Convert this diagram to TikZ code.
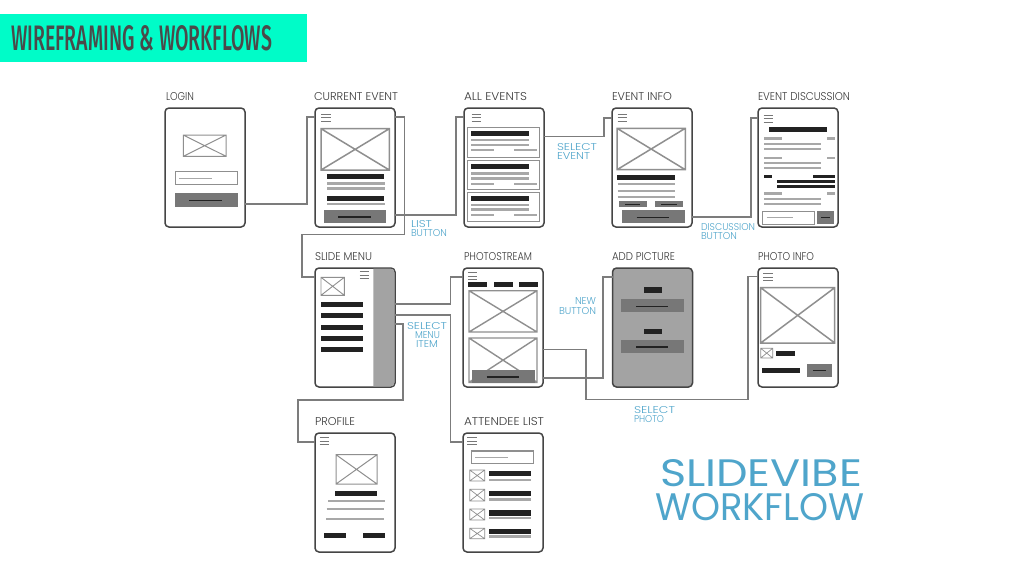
\documentclass[tikz,border=0pt]{standalone}
\usepackage{fontspec}
\usepackage{graphicx}
\newfontfamily\handfont{Poppins Light}
\newfontfamily\bighand{Poppins}
\newfontfamily\titlefont{Fira Sans Medium}
\definecolor{inkd}{HTML}{222222}
\definecolor{linegrey}{HTML}{A8A8A8}
\definecolor{btn}{HTML}{777777}
\definecolor{frame}{HTML}{454545}
\definecolor{conncol}{HTML}{7C7C7C}
\definecolor{imgcol}{HTML}{8F8F8F}
\definecolor{panel}{HTML}{A3A3A3}
\definecolor{bluelab}{HTML}{4FA5CB}
\definecolor{banner}{HTML}{00FCC8}
\definecolor{titleink}{HTML}{4A4A4A}
\definecolor{labink}{HTML}{3A3A3A}
\tikzset{
  screen/.style={draw=frame,line width=1.5pt,rounded corners=4pt,fill=white,minimum width=80pt,minimum height=119pt,inner sep=0pt,outer sep=0pt,anchor=north west},
  conn/.style={draw=conncol,line width=1.2pt},
  txtlab/.style={inner sep=0pt,outer sep=0pt,anchor=base west},
}
% filled bar
\newcommand{\fb}[5]{\fill[#1] (#2,#3) rectangle (#4,#5);}
% horizontal thin line: colour, x1, x2, y, width
\newcommand{\hl}[5]{\draw[#1,line width=#5pt] (#2,#4) -- (#3,#4);}
% image placeholder: line width, colour, box
\newcommand{\img}[6]{\draw[#2,line width=#1pt] (#3,#4) rectangle (#5,#6) (#3,#4) -- (#5,#6) (#3,#6) -- (#5,#4);}
% hamburger
\newcommand{\burger}[3]{\draw[btn,line width=1pt] (#1,#2) -- ++(9.5,0) (#1,#2+3.5) -- ++(9.5,0) (#1,#2+7) -- ++(9.5,0);}
% button with inner line
\newcommand{\btnbox}[7]{\fill[btn] (#1,#2) rectangle (#3,#4); \draw[inkd,line width=1.4pt] (#5,#7) -- (#6,#7);}
% label: name, colour, x, baseline y, width, height, text
\newcommand{\lab}[7]{\node[txtlab,text=#2] (#1) at (#3,#4) {\resizebox{#5pt}{#6pt}{\handfont #7}};}
\begin{document}
\begin{tikzpicture}[x=1pt,y=-1pt]
\useasboundingbox (0,0) rectangle (1024,576);
\fill[white] (0,0) rectangle (1024,576);
% banner
\fill[banner] (0,13.5) rectangle (307,62);
\node[txtlab,text=titleink] (title) at (11,50) {\resizebox{261pt}{25pt}{\titlefont WIREFRAMING \& WORKFLOWS}};

% screens
\node[screen] (login) at (165,108) {};
\node[screen] (current) at (315,108) {};
\node[screen] (allev) at (464,108) {};
\node[screen] (evinfo) at (612,108) {};
\node[screen] (evdisc) at (758,108) {};
\node[screen] (menu) at (315,268) {};
\node[screen] (pstream) at (463,268) {};
\node[screen,fill=panel] (addpic) at (612.5,268) {};
\node[screen] (pinfo) at (758,268) {};
\node[screen] (profile) at (315,433) {};
\node[screen] (attend) at (463,433) {};

% connectors
\draw[conn] (login.east |- 0,204) -- (307,204) -- (307,117) -- (current.west |- 0,117);
\draw[conn] (current.east |- 0,215) -- (456,215) -- (456,117) -- (allev.west |- 0,117);
\draw[conn] (current.east |- 0,117) -- (404.5,117) -- (404.5,234.5) -- (302,234.5) -- (302,277) -- (menu.west |- 0,277);
\draw[conn] (allev.east |- 0,136.5) -- (604,136.5) -- (604,118) -- (evinfo.west |- 0,118);
\draw[conn] (evinfo.east |- 0,217) -- (751,217) -- (751,118) -- (evdisc.west |- 0,118);
\draw[conn] (menu.east |- 0,304) -- (450.5,304) -- (450.5,277) -- (pstream.west |- 0,277);
\draw[conn] (menu.east |- 0,315) -- (450.5,315) -- (450.5,442) -- (attend.west |- 0,442);
\draw[conn] (menu.east |- 0,324) -- (403,324) -- (403,400) -- (298,400) -- (298,442) -- (profile.west |- 0,442);
\draw[conn] (pstream.east |- 0,378) -- (603,378) -- (603,277) -- (addpic.west |- 0,277);
\draw[conn] (pstream.east |- 0,349.5) -- (586,349.5) -- (586,399.5) -- (748,399.5) -- (748,276.5) -- (pinfo.west |- 0,276.5);

% login
\img{1}{imgcol}{183.3}{135}{226}{156.3}
\draw[imgcol,line width=1pt] (175,171.7) rectangle (237.7,184.7);
\hl{linegrey}{179}{212}{178.3}{0.9}
\btnbox{175}{193.3}{238}{206.7}{189.3}{222.3}{200.3}

% current event
\burger{321}{114.3}{}
\img{1.5}{imgcol}{321}{128.7}{389.3}{170}
\fb{inkd}{326.7}{174.3}{384}{179}
\hl{linegrey}{327.3}{384.7}{183.5}{2.6}
\hl{linegrey}{327.3}{384.7}{188.5}{2.6}
\fb{inkd}{326.7}{196}{384}{200.5}
\hl{linegrey}{327.3}{384.7}{204.3}{2}
\btnbox{323.7}{210}{386.3}{223.3}{338.3}{370.7}{217}

% all events
\burger{471.7}{114.3}{}
\draw[imgcol,line width=0.9pt] (467.7,127.7) rectangle (539.7,157);
\draw[imgcol,line width=0.9pt] (467.7,160.7) rectangle (539.7,189.7);
\draw[imgcol,line width=0.9pt] (467.7,192.3) rectangle (539.7,221);
\fb{inkd}{471}{131}{529}{136.3}
\hl{linegrey}{471}{529}{140}{2.6}
\hl{linegrey}{471}{529}{145}{2.6}
\hl{linegrey}{471}{494}{150.3}{2.2}
\hl{linegrey}{514}{537}{150.3}{2.2}
\fb{inkd}{471}{164}{529}{169.3}
\hl{linegrey}{471}{529}{173.3}{2.6}
\hl{linegrey}{471}{529}{178.3}{2.6}
\hl{linegrey}{471}{494}{183.7}{2.2}
\hl{linegrey}{514}{537}{183.7}{2.2}
\fb{inkd}{471}{195.7}{529}{200.7}
\hl{linegrey}{471}{529}{205}{2.6}
\hl{linegrey}{471}{529}{209.7}{2.6}
\hl{linegrey}{471}{494}{215}{2.2}
\hl{linegrey}{514}{537}{215}{2.2}

% event info
\burger{617.5}{114.3}{}
\img{1.5}{imgcol}{617}{128.3}{685.3}{169.7}
\fb{inkd}{617.3}{174.7}{674.7}{179.7}
\hl{linegrey}{617.7}{675}{184}{2.4}
\hl{linegrey}{617.7}{675}{190.7}{2.4}
\hl{linegrey}{617.7}{675}{197}{2.4}
\btnbox{618.7}{201.3}{647}{207.3}{625}{640}{204.3}
\btnbox{655}{201.3}{683.3}{207.3}{661}{677}{204.3}
\btnbox{622}{210.3}{684.7}{223.3}{636.7}{669}{217.3}

% event discussion
\burger{763.5}{115}{}
\fb{inkd}{769.3}{126.7}{827}{132}
\hl{linegrey}{764}{782}{138.7}{2.6}
\hl{linegrey}{827.3}{834.7}{138.7}{2.6}
\hl{linegrey}{764}{821.3}{143.7}{2.2}
\hl{linegrey}{764}{821.3}{149}{2.2}
\hl{linegrey}{764}{782}{158}{2.6}
\hl{linegrey}{827.3}{834.7}{158}{2.6}
\hl{linegrey}{764}{821.3}{163}{2.2}
\hl{linegrey}{764}{821.3}{168.3}{2.2}
\hl{inkd}{764}{771.7}{176}{3}
\hl{inkd}{813.3}{834.7}{176}{3}
\hl{inkd}{777.3}{834.7}{181.3}{3}
\hl{inkd}{777.3}{834.7}{186.3}{3}
\hl{linegrey}{764}{782}{193.3}{2.6}
\hl{linegrey}{827.3}{834.7}{193.3}{2.6}
\hl{linegrey}{764}{821.3}{198.7}{2.2}
\hl{linegrey}{764}{821.3}{204}{2.2}
\draw[imgcol,line width=1pt] (762.7,211.3) rectangle (814.7,224);
\hl{linegrey}{766.7}{793.3}{217.7}{1}
\btnbox{817}{211.3}{834}{224}{821.3}{830}{217.7}

% slide menu
\fill[panel] (373.3,268.7) [rounded corners=3.5pt] -- (394.3,268.7) -- (394.3,386.3) [sharp corners] -- (373.3,386.3) -- cycle;
\burger{359.8}{271.7}{}
\img{0.9}{imgcol}{321}{277.3}{344.3}{295.3}
\fb{inkd}{321}{302.3}{363}{307.3}
\fb{inkd}{321}{313}{363}{318}
\fb{inkd}{321}{324.7}{363}{330}
\fb{inkd}{321}{336}{363}{341}
\fb{inkd}{321}{346.7}{363}{351.7}

% photostream
\burger{467.8}{272.7}{}
\fb{inkd}{467.7}{282}{487}{287.3}
\fb{inkd}{494.3}{282}{513.3}{287.3}
\fb{inkd}{518.7}{282}{537.7}{287.3}
\img{1.4}{imgcol}{469}{290.7}{537}{332}
\img{1.4}{imgcol}{469}{338}{537}{382.3}
\btnbox{472.3}{369.7}{535}{383}{486.7}{519.3}{377}

% add picture
\fb{inkd}{643.7}{287.3}{662.3}{292.7}
\btnbox{621}{299.3}{684.3}{312.3}{636}{668.3}{306.3}
\fb{inkd}{643.7}{329}{662.3}{334}
\btnbox{621}{340}{684.3}{353}{636}{668.3}{347}

% photo info
\burger{763.3}{273.5}{}
\img{1.5}{imgcol}{760.7}{287.7}{834.7}{343}
\img{0.7}{imgcol}{760.7}{348.3}{772.7}{358}
\fb{inkd}{776.3}{350.7}{795.3}{355.7}
\fb{inkd}{761.7}{368}{800.3}{373}
\btnbox{806.7}{363.7}{832}{376.7}{813}{826}{370.7}

% profile
\burger{319.5}{437.5}{}
\img{1}{imgcol}{336}{454.7}{377}{484}
\fb{inkd}{335}{490.7}{376.7}{496.3}
\hl{linegrey}{328}{385.3}{501}{2.6}
\hl{linegrey}{326.7}{384}{509}{2.2}
\hl{linegrey}{326}{383.7}{519}{2.4}
\fb{inkd}{323.7}{532.7}{345.7}{538}
\fb{inkd}{363}{532.7}{384.7}{538}

% attendee list
\burger{467.3}{437.5}{}
\draw[imgcol,line width=1.1pt] (471.3,451) rectangle (533.7,463.7);
\hl{linegrey}{475}{508.3}{457.3}{1}
\img{0.7}{imgcol}{469.7}{470}{484.7}{481}
\img{0.7}{imgcol}{469.7}{489.3}{484.7}{501}
\img{0.7}{imgcol}{469.7}{509}{484.7}{520}
\img{0.7}{imgcol}{469.7}{528.3}{484.7}{538.7}
\fb{inkd}{489.3}{471}{531.3}{476.3}
\hl{linegrey}{489.3}{531.3}{480}{2.6}
\fb{inkd}{489.3}{490.7}{531.3}{496}
\hl{linegrey}{489.3}{531.3}{499.3}{2.6}
\fb{inkd}{489.3}{510.3}{531.3}{515.7}
\hl{linegrey}{489.3}{531.3}{518}{2.6}
\fb{inkd}{489.3}{529}{531.3}{534}
\hl{linegrey}{489.3}{531.3}{536.7}{2.6}

% screen titles
\lab{tlogin}{labink}{166}{100}{28}{8}{LOGIN}
\lab{tcurrent}{labink}{314}{100}{84}{8}{CURRENT EVENT}
\lab{tallev}{labink}{464}{100}{63}{8}{ALL EVENTS}
\lab{tevinfo}{labink}{612}{100}{60}{8}{EVENT INFO}
\lab{tevdisc}{labink}{758}{100}{92}{8}{EVENT DISCUSSION}
\lab{tmenu}{labink}{315}{260}{57}{8}{SLIDE MENU}
\lab{tpstream}{labink}{464}{260}{68}{8}{PHOTOSTREAM}
\lab{taddpic}{labink}{612}{260}{63}{8}{ADD PICTURE}
\lab{tpinfo}{labink}{758}{260}{56}{8}{PHOTO INFO}
\lab{tprofile}{labink}{315}{425}{40}{8}{PROFILE}
\lab{tattend}{labink}{464}{425}{80}{8}{ATTENDEE LIST}

% blue labels
\lab{la}{bluelab}{411}{227}{21}{7}{LIST}
\lab{lb}{bluelab}{411}{236}{36}{7}{BUTTON}
\lab{lc}{bluelab}{557}{150}{40}{7}{SELECT}
\lab{ld}{bluelab}{557}{159}{33}{7}{EVENT}
\lab{le}{bluelab}{701}{230}{54}{7}{DISCUSSION}
\lab{lf}{bluelab}{701}{239}{36}{7}{BUTTON}
\lab{lg}{bluelab}{407}{329.5}{40}{7}{SELECT}
\lab{lh}{bluelab}{415}{338.5}{25}{7}{MENU}
\lab{li}{bluelab}{416}{347.5}{22}{7}{ITEM}
\lab{lj}{bluelab}{575}{304.5}{21}{7}{NEW}
\lab{lk}{bluelab}{559}{314.5}{37}{7}{BUTTON}
\lab{ll}{bluelab}{634}{413}{41}{7}{SELECT}
\lab{lm}{bluelab}{634}{422}{30}{7}{PHOTO}
\node[txtlab,text=bluelab] (big1) at (660,486.5) {\resizebox{202pt}{27pt}{\bighand SLIDEVIBE}};
\node[txtlab,text=bluelab] (big2) at (655,520.5) {\resizebox{209pt}{27pt}{\bighand WORKFLOW}};
\end{tikzpicture}
\end{document}
